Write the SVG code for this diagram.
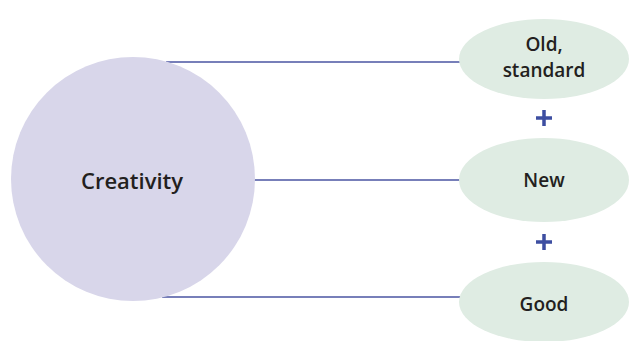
<svg xmlns="http://www.w3.org/2000/svg" width="629" height="341" viewBox="0 0 629 341">
<style>
.lbl{font-family:"Open Sans","Liberation Sans",sans-serif;font-weight:600;font-size:19px;fill:#231f20;text-anchor:middle}
.big{font-size:22px}
.ell{fill:#dfece3}
.conn{stroke:#4a55a2;stroke-width:1.3;fill:none}
.plus{stroke:#3d4ea1;stroke-width:3.5;fill:none}
</style>
<rect width="629" height="341" fill="#ffffff"/>
<g id="connectors">
<line class="conn" x1="166" y1="62" x2="462" y2="62"/>
<line class="conn" x1="254" y1="180" x2="462" y2="180"/>
<line class="conn" x1="162" y1="297" x2="462" y2="297"/>
</g>
<g id="creativity">
<circle cx="133" cy="179" r="122" fill="#d8d6ea"/>
<text class="lbl big" x="132" y="189">Creativity</text>
</g>
<g id="old">
<ellipse class="ell" cx="544" cy="59" rx="85" ry="40"/>
<text class="lbl" x="544" y="51">Old,</text>
<text class="lbl" x="544" y="77">standard</text>
</g>
<g id="new">
<ellipse class="ell" cx="544" cy="180" rx="85" ry="42"/>
<text class="lbl" x="544" y="187">New</text>
</g>
<g id="good">
<ellipse class="ell" cx="544" cy="302" rx="85" ry="40"/>
<text class="lbl" x="544" y="311">Good</text>
</g>
<g id="plus1"><path class="plus" d="M536 118h16M544 110v16"/></g>
<g id="plus2"><path class="plus" d="M536 242h16M544 234v16"/></g>
</svg>
